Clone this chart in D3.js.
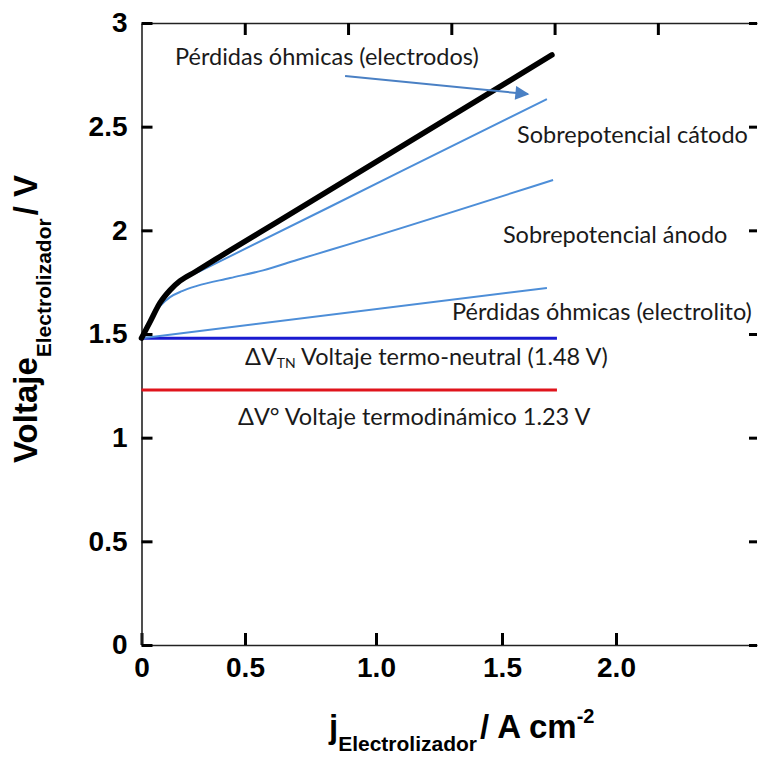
<!DOCTYPE html>
<html>
<head>
<meta charset="utf-8">
<script src="https://cdn.jsdelivr.net/npm/d3@7"></script>
<style>
  body { margin: 0; background: #fff; }
  .tick text { font-family: "Liberation Sans", Arial, sans-serif; font-weight: bold; font-size: 28px; fill: #000; }
  .note { font-family: Lato, "Open Sans", sans-serif; font-size: 23.5px; fill: #1a1a1a; }
  .title { font-family: "Liberation Sans", Arial, sans-serif; font-weight: bold; fill: #000; }
</style>
</head>
<body>
<div id="chart"></div>
<script>
// axis ticks (bottom labels are unevenly spaced in the original figure)
const xTicks = [0, 0.5, 1.0, 1.5, 2.0];
const xTickLabels = ["0", "0.5", "1.0", "1.5", "2.0"];
const yTicks = [0, 0.5, 1, 1.5, 2, 2.5, 3];
const yTickLabels = ["0", "0.5", "1", "1.5", "2", "2.5", "3"];
const topTicks = [0.5, 1.0, 1.5, 2.0, 2.5];

// curves [j, V]
const totalCurve = [[0, 1.48], [0.041, 1.558], [0.089, 1.650], [0.138, 1.712], [0.186, 1.756],
  [0.258, 1.799], [0.428, 1.903], [0.622, 2.040], [1.095, 2.400], [1.719, 2.846]];
const cathodeCurve = [[0, 1.48], [0.041, 1.558], [0.089, 1.650], [0.138, 1.712], [0.186, 1.756],
  [0.283, 1.803], [1.095, 2.282], [1.697, 2.633]];
const anodeCurve = [[0, 1.48], [0.0217, 1.534], [0.0507, 1.582], [0.0894, 1.635], [0.138, 1.678],
  [0.196, 1.707], [0.268, 1.732], [0.428, 1.770], [0.569, 1.807], [0.698, 1.857], [0.824, 1.905],
  [1.724, 2.243]];
const electrolyteCurve = [[0, 1.48], [1.697, 1.722]];
const thermoNeutral = [[0, 1.48], [1.741, 1.48]];
const thermoDynamic = [[0, 1.23], [1.741, 1.23]];
const arrowLine = [[0.882, 2.744], [1.614, 2.657]];

const notes = [
  { x: 0.162, y: 2.797, text: "Pérdidas óhmicas (electrodos)" },
  { x: 1.566, y: 2.421, text: "Sobrepotencial cátodo" },
  { x: 1.504, y: 1.939, text: "Sobrepotencial ánodo" },
  { x: 1.302, y: 1.568, text: "Pérdidas óhmicas (electrolito)" },
  { x: 0.466, y: 1.061, text: "ΔV° Voltaje termodinámico 1.23 V" }
];
const tnNote = { x: 0.5, y: 1.350, pre: "ΔV", sub: "TN", post: " Voltaje termo-neutral (1.48 V)" };

var width = 758, height = 759;
var plotLeft = 141.5, plotRight = 757, plotTop = 23, plotBottom = 645;

var x = d3.scaleLinear()
  .domain([0, 0.5, 1.0, 1.5, 2.0, 2.618])
  .range([plotLeft, 245, 376, 502, 616, plotRight]);
var xTop = d3.scaleLinear().domain([0, 2.98]).range([plotLeft, plotRight]);
var y = d3.scaleLinear().domain([0, 3]).range([plotBottom, plotTop]);

var svg = d3.select("#chart").append("svg")
  .attr("width", width)
  .attr("height", height);

svg.append("defs").append("marker")
  .attr("id", "arrow")
  .attr("viewBox", "0 0 10 10")
  .attr("refX", 9)
  .attr("refY", 5)
  .attr("markerWidth", 8.5)
  .attr("markerHeight", 7)
  .attr("orient", "auto")
  .append("path")
  .attr("d", "M0,0L10,5L0,10Z")
  .attr("fill", "#4a80c4");

function styleAxis(g) {
  g.select(".domain").attr("stroke", "#222").attr("stroke-width", 1.6);
  g.selectAll(".tick line").attr("stroke", "#000").attr("stroke-width", 3);
}

// axes
svg.append("g")
  .attr("transform", "translate(0," + plotBottom + ")")
  .call(d3.axisBottom(x).tickValues(xTicks)
    .tickFormat((d, i) => xTickLabels[i])
    .tickSizeInner(-12).tickSizeOuter(0).tickPadding(8))
  .call(styleAxis)
  .call(g => g.selectAll(".tick text").attr("dy", "0.85em"));

svg.append("g")
  .attr("transform", "translate(0," + plotTop + ")")
  .call(d3.axisTop(xTop).tickValues(topTicks).tickFormat("")
    .tickSizeInner(-12).tickSizeOuter(0))
  .call(styleAxis);

svg.append("g")
  .attr("transform", "translate(" + plotLeft + ",0)")
  .call(d3.axisLeft(y).tickValues(yTicks)
    .tickFormat((d, i) => yTickLabels[i])
    .tickSizeInner(-11).tickSizeOuter(0).tickPadding(14))
  .call(styleAxis);

svg.append("g")
  .attr("transform", "translate(" + plotRight + ",0)")
  .call(d3.axisRight(y).tickValues(yTicks).tickFormat("")
    .tickSizeInner(-8).tickSizeOuter(0))
  .call(styleAxis)
  .call(g => g.select(".domain").remove());

var line = d3.line()
  .x(d => x(d[0]))
  .y(d => y(d[1]))
  .curve(d3.curveMonotoneX);

// reference voltages
svg.append("path").datum(thermoDynamic)
  .attr("d", line).attr("fill", "none")
  .attr("stroke", "#e0141c").attr("stroke-width", 3);
svg.append("path").datum(thermoNeutral)
  .attr("d", line).attr("fill", "none")
  .attr("stroke", "#1a1ad0").attr("stroke-width", 3);

// loss components
[cathodeCurve, anodeCurve, electrolyteCurve].forEach(c => {
  svg.append("path").datum(c)
    .attr("d", line).attr("fill", "none")
    .attr("stroke", "#4d8ed8").attr("stroke-width", 2);
});

svg.append("path").datum(totalCurve)
  .attr("d", line).attr("fill", "none")
  .attr("stroke", "#000").attr("stroke-width", 5.5)
  .attr("stroke-linecap", "round");

svg.append("path").datum(arrowLine)
  .attr("d", d3.line().x(d => x(d[0])).y(d => y(d[1])))
  .attr("stroke", "#4a80c4").attr("stroke-width", 2)
  .attr("marker-end", "url(#arrow)");

// annotations
svg.selectAll(".note.plain")
  .data(notes)
  .enter().append("text")
  .attr("class", "note plain")
  .attr("x", d => x(d.x))
  .attr("y", d => y(d.y))
  .text(d => d.text);

var tn = svg.append("text").attr("class", "note")
  .attr("x", x(tnNote.x)).attr("y", y(tnNote.y));
tn.append("tspan").text(tnNote.pre);
tn.append("tspan").attr("font-size", 14).attr("dy", 3).text(tnNote.sub);
tn.append("tspan").attr("dy", -3).text(tnNote.post);

// axis titles
var yt = svg.append("text").attr("class", "title")
  .attr("transform", "translate(37,463) rotate(-90)");
yt.append("tspan").attr("font-size", 33).text("Voltaje");
yt.append("tspan").attr("font-size", 21).attr("dy", 14).text("Electrolizador");
yt.append("tspan").attr("font-size", 33).attr("dy", -14).attr("dx", 3).text("/ V");

var xt = svg.append("text").attr("class", "title")
  .attr("x", 329).attr("y", 738);
xt.append("tspan").attr("font-size", 33).text("j");
xt.append("tspan").attr("font-size", 21).attr("dy", 13).text("Electrolizador");
xt.append("tspan").attr("font-size", 33).attr("dy", -13).attr("dx", 3).text("/ A cm");
xt.append("tspan").attr("font-size", 20).attr("dy", -15).text("-2");
</script>
</body>
</html>
